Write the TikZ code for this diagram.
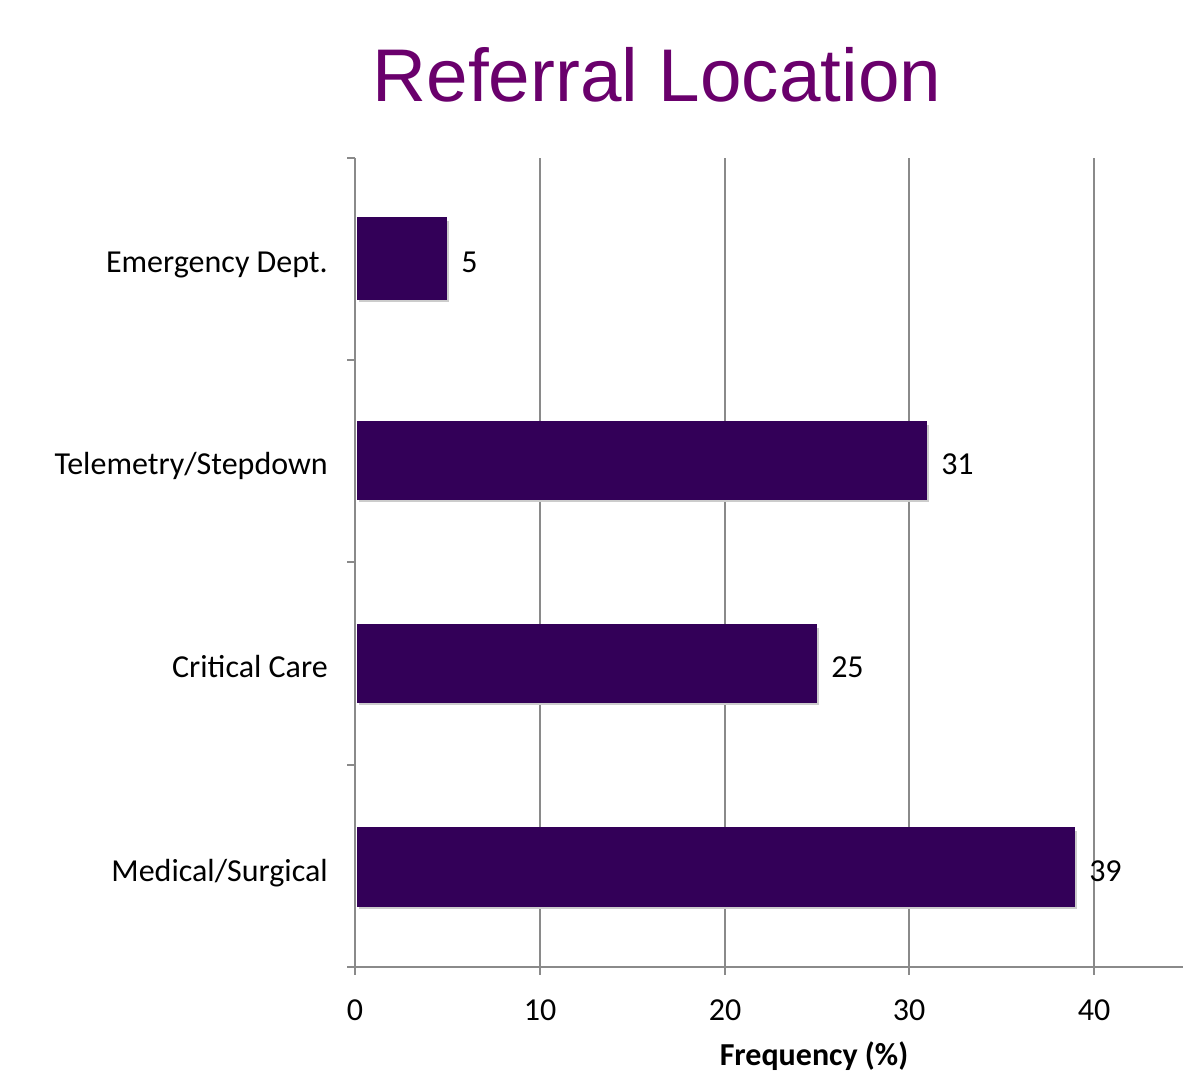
\documentclass[tikz,border=0pt]{standalone}
\usepackage{fontspec}
\setmainfont{Carlito}
\newfontfamily\titlefont{Liberation Sans}
\definecolor{barpurple}{HTML}{330058}
\definecolor{titlepurple}{HTML}{6A006C}
\definecolor{gridgray}{HTML}{8A8A8A}
\begin{document}
\begin{tikzpicture}[x=0.75pt, y=-0.75pt,
        grid/.style={gridgray, line width=1.5pt},
        bar/.style={fill=barpurple, draw=none},
        txt/.style={inner sep=0pt, font=\fontsize{24}{28}\selectfont}]
        \useasboundingbox (0,0) rectangle (1183,1079);
        % gridlines and axes
        \draw[grid] (540,158) -- (540,975) ;
        \draw[grid] (725,158) -- (725,975) ;
        \draw[grid] (909,158) -- (909,975) ;
        \draw[grid] (1094,158) -- (1094,975) ;
        \draw[grid] (355,158) -- (355,975) ;
        \draw[grid] (347,967) -- (1183,967) ;
        \draw[grid] (347,158) -- (355,158) ;
        \draw[grid] (347,360) -- (355,360) ;
        \draw[grid] (347,562) -- (355,562) ;
        \draw[grid] (347,765) -- (355,765) ;
        % bars
        \fill[black!20] (359,221) rectangle (449,302) ;
        \fill[black!20] (359,425) rectangle (929,502) ;
        \fill[black!20] (359,628) rectangle (819,705) ;
        \fill[black!20] (359,831) rectangle (1077,909) ;
        \draw[bar] (357,217) rectangle (447,300) ;
        \draw[bar] (357,421) rectangle (927,500) ;
        \draw[bar] (357,624) rectangle (817,703) ;
        \draw[bar] (357,827) rectangle (1075,907) ;
        % values
        \node[txt, anchor=base west] (valed) at (461,272) {5} ;
        \node[txt, anchor=base west] (valtele) at (941,474) {31} ;
        \node[txt, anchor=base west] (valcrit) at (831,677) {25} ;
        \node[txt, anchor=base west] (valmed) at (1089,881) {39} ;
        % categories
        \node[txt, anchor=base east] (cated) at (328,272) {Emergency Dept.} ;
        \node[txt, anchor=base east] (cattele) at (328,474) {Telemetry/Stepdown} ;
        \node[txt, anchor=base east] (catcrit) at (328,677) {Critical Care} ;
        \node[txt, anchor=base east] (catmed) at (328,881) {Medical/Surgical} ;
        % x ticks
        \node[txt, anchor=base] (tick0) at (355,1020) {0} ;
        \node[txt, anchor=base] (tick10) at (540,1020) {10} ;
        \node[txt, anchor=base] (tick20) at (725,1020) {20} ;
        \node[txt, anchor=base] (tick30) at (909,1020) {30} ;
        \node[txt, anchor=base] (tick40) at (1094,1020) {40} ;
        \node[txt, anchor=base, font=\fontsize{24}{28}\selectfont\bfseries] (xtitle) at (814,1065) {Frequency (\%)} ;
        % title
        \node[inner sep=0pt, anchor=base, text=titlepurple, font=\titlefont\fontsize{56}{64}\selectfont] (title) at (657,101) {Referral Location} ;
\end{tikzpicture}
\end{document}
